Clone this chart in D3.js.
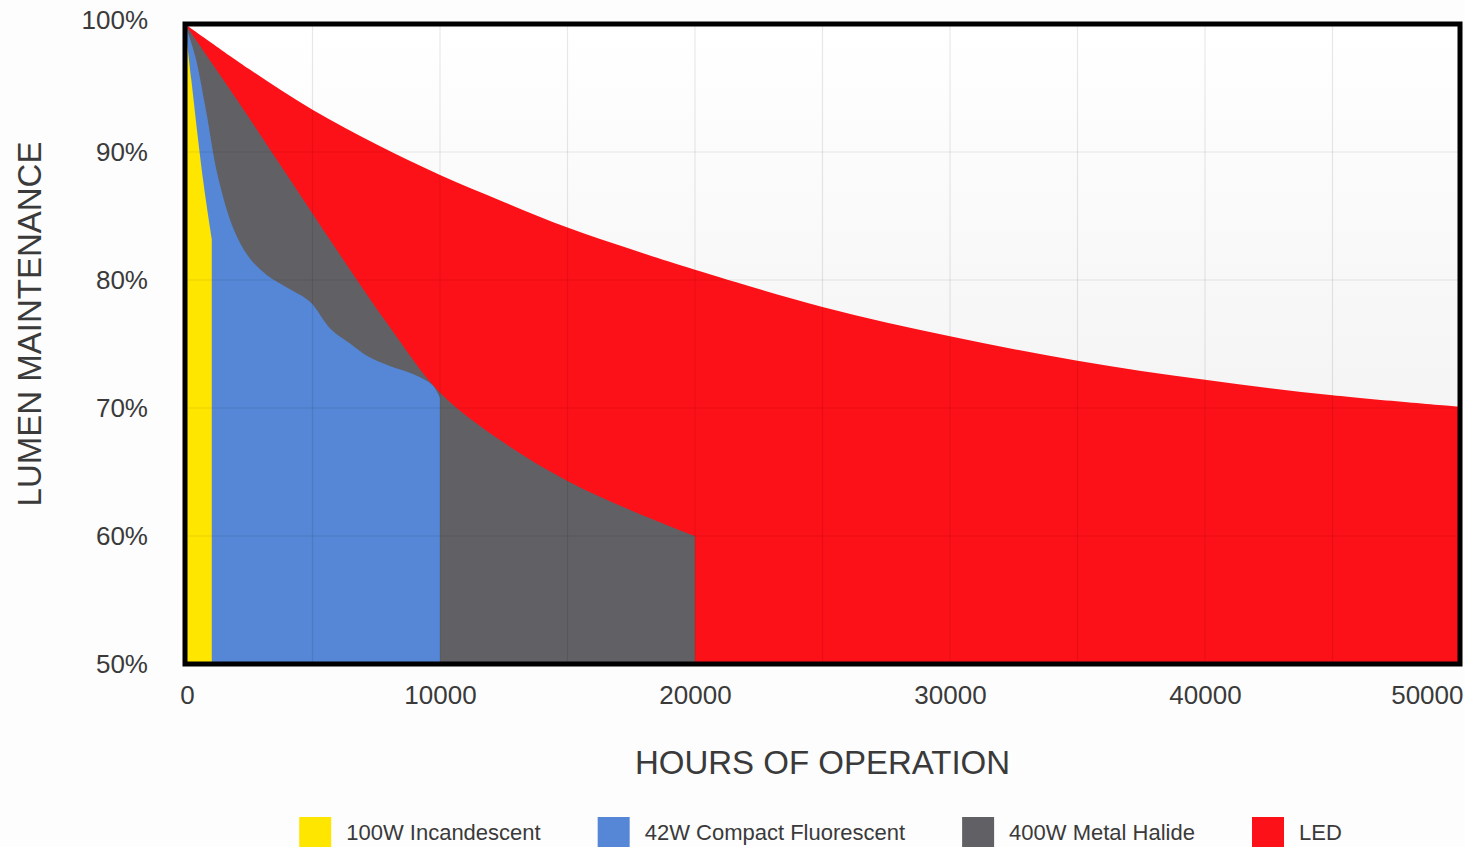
<!DOCTYPE html>
<html>
<head>
<meta charset="utf-8">
<script src="https://cdn.jsdelivr.net/npm/d3@7"></script>
<style>
  body { margin: 0; background: #fdfdfd; }
  svg text { font-family: "Liberation Sans", Arial, sans-serif; fill: #3a3a3a; }
</style>
</head>
<body>
<svg width="1465" height="847"></svg>
<script>
// axis ticks
const hoursTicks = [0, 10000, 20000, 30000, 40000, 50000];
const pctTicks = [50, 60, 70, 80, 90, 100];
const gridHours = [5000, 10000, 15000, 20000, 25000, 30000, 35000, 40000, 45000];
const gridPct = [60, 70, 80, 90];

// series names + colours (legend order)
const lampNames = ["100W Incandescent", "42W Compact Fluorescent", "400W Metal Halide", "LED"];
const lampColors = ["#ffe600", "#5587d6", "#616165", "#fd1118"];

// lumen maintenance curves
const incHours = [0, 250, 500, 750, 1050];
const incPct = [100, 95.6, 91.2, 87.2, 83.2];

const cflHours = [0, 400, 800, 1300, 1900, 2500, 3200, 4100, 4900, 5700, 6500, 7200, 8000, 9000, 9700, 10000];
const cflPct = [100, 97.5, 93.5, 88, 84, 81.8, 80.4, 79.3, 78.3, 76.2, 75, 74, 73.3, 72.6, 71.8, 70.8];

const mhHours = [0, 2000, 4000, 6000, 8000, 10000, 12500, 15000, 17500, 20000];
const mhPct = [100, 94.2, 88.2, 82.2, 76.4, 71.2, 67.3, 64.3, 62, 60];

const ledHours = [0, 2500, 5000, 7500, 10000, 12500, 15000, 17500, 20000, 25000, 30000, 35000, 40000, 45000, 50000];
const ledPct = [100, 96.5, 93.3, 90.6, 88.2, 86.1, 84.1, 82.4, 80.8, 77.9, 75.6, 73.7, 72.2, 71, 70.1];

const svg = d3.select("svg");
const x = d3.scaleLinear().domain([0, 50000]).range([185, 1460]);
const y = d3.scaleLinear().domain([50, 100]).range([664, 24]);

// plot background, slight grey toward the bottom
const grad = svg.append("defs").append("linearGradient")
  .attr("id", "bg").attr("x1", 0).attr("y1", 0).attr("x2", 0).attr("y2", 1);
grad.append("stop").attr("offset", "0%").attr("stop-color", "#ffffff");
grad.append("stop").attr("offset", "100%").attr("stop-color", "#ededed");

svg.append("rect")
  .attr("x", x(0)).attr("y", y(100))
  .attr("width", x(50000) - x(0)).attr("height", y(50) - y(100))
  .attr("fill", "url(#bg)");

// areas, back to front
const series = [
  { hours: ledHours, pct: ledPct, color: lampColors[3] },
  { hours: mhHours, pct: mhPct, color: lampColors[2] },
  { hours: cflHours, pct: cflPct, color: lampColors[1] },
  { hours: incHours, pct: incPct, color: lampColors[0] }
];

const area = d3.area()
  .x(d => x(d[0]))
  .y0(y(50))
  .y1(d => y(d[1]))
  .curve(d3.curveCatmullRom.alpha(0.5));

svg.append("g")
  .selectAll("path")
  .data(series)
  .join("path")
  .attr("d", s => area(s.hours.map((h, i) => [h, s.pct[i]])))
  .attr("fill", s => s.color);

// grid on top, faint
const grid = svg.append("g").attr("stroke", "rgba(0,0,0,0.09)").attr("stroke-width", 1.2);
grid.selectAll(".gx")
  .data(gridHours)
  .join("line")
  .attr("x1", d => x(d)).attr("x2", d => x(d))
  .attr("y1", y(100)).attr("y2", y(50));
grid.selectAll(".gy")
  .data(gridPct)
  .join("line")
  .attr("x1", x(0)).attr("x2", x(50000))
  .attr("y1", d => y(d)).attr("y2", d => y(d));

// frame
svg.append("rect")
  .attr("x", x(0)).attr("y", y(100))
  .attr("width", x(50000) - x(0)).attr("height", y(50) - y(100))
  .attr("fill", "none")
  .attr("stroke", "#000")
  .attr("stroke-width", 5);

// axes
const yAxis = svg.append("g")
  .attr("transform", `translate(${x(0)},0)`)
  .call(d3.axisLeft(y).tickValues(pctTicks).tickFormat(d => d + "%").tickSize(0).tickPadding(37));
const xAxis = svg.append("g")
  .attr("transform", `translate(0,${y(50)})`)
  .call(d3.axisBottom(x).tickValues(hoursTicks).tickFormat(d => d).tickSize(0).tickPadding(22));

[yAxis, xAxis].forEach(g => {
  g.select(".domain").remove();
  g.selectAll("text").attr("font-family", null).attr("fill", null);
});
yAxis.selectAll("text").attr("font-size", 26);
yAxis.selectAll(".tick").filter(d => d === 100).select("text").attr("y", -4);
xAxis.selectAll("text").attr("font-size", 26);
xAxis.selectAll(".tick").filter(d => d === 50000).select("text")
  .attr("text-anchor", "end").attr("x", 3);
xAxis.selectAll(".tick").filter(d => d === 0).select("text").attr("x", 2);

// titles
svg.append("text")
  .attr("x", (x(0) + x(50000)) / 2).attr("y", 774)
  .attr("text-anchor", "middle").attr("font-size", 33)
  .text("HOURS OF OPERATION");

svg.append("text")
  .attr("transform", `translate(41,${(y(100) + y(50)) / 2 - 20}) rotate(-90)`)
  .attr("text-anchor", "middle").attr("font-size", 33)
  .text("LUMEN MAINTENANCE");

// legend, centred under the plot
const legend = svg.append("g");
const items = legend.selectAll("g")
  .data(lampNames)
  .join("g");
items.append("rect")
  .attr("width", 32).attr("height", 34).attr("y", 817)
  .attr("fill", (d, i) => lampColors[i]);
items.append("text")
  .attr("x", 47).attr("y", 840)
  .attr("font-size", 22)
  .text(d => d);

const gap = 57;
let cursor = 0;
const offsets = [];
items.each(function () {
  offsets.push(cursor);
  cursor += 47 + this.querySelector("text").getComputedTextLength() + gap;
});
const total = cursor - gap;
const start = (x(0) + x(50000)) / 2 - total / 2 - 2;
items.attr("transform", (d, i) => `translate(${start + offsets[i]},0)`);
</script>
</body>
</html>
